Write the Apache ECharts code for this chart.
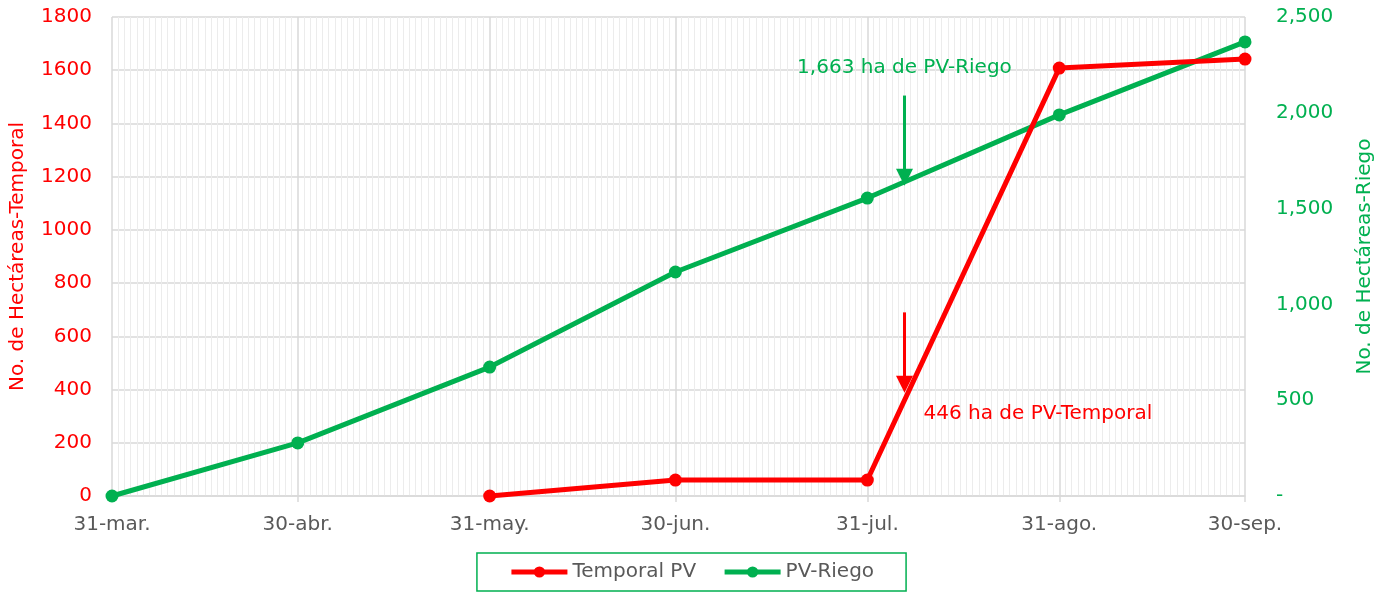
<!DOCTYPE html>
<html>
<head>
<meta charset="utf-8">
<script src="https://cdn.jsdelivr.net/npm/echarts@6/dist/echarts.min.js"></script>
<style>html,body{margin:0;padding:0;background:#fff}#c{width:1383px;height:596px}</style>
</head>
<body>
<div id="c"></div>
<script>
// ---- data ----
const dates = ['31-mar.', '30-abr.', '31-may.', '30-jun.', '31-jul.', '31-ago.', '30-sep.'];
const tickLabels = ['31-mar.', '30-abr.', '31-may.', '30-jun.', '31-jul.', '31-ago.', '30-sep.'];
const temporal = [null, null, 0, 60, 60, 1608, 1642];
const riego = [0, 277, 673, 1169, 1555, 1989, 2370];
const riegoArrow = ['6-ago.', 2090, 1663];
const temporalArrow = ['6-ago.', 690, 420];
const riegoNote = ['6-ago.', 2234, '1,663 ha de PV-Riego'];
const temporalNote = ['9-ago.', 308, '446 ha de PV-Temporal'];

// daily category axis (31-mar .. 30-sep)
const monthsEs = ['ene','feb','mar','abr','may','jun','jul','ago','sep','oct','nov','dic'];
const days = [];
{
  const d0 = new Date(Date.UTC(2021, 2, 31));
  for (let i = 0; i <= 183; i++) {
    const d = new Date(d0.getTime() + i * 86400000);
    days.push(d.getUTCDate() + '-' + monthsEs[d.getUTCMonth()] + '.');
  }
}
const isMajor = (idx, val) => tickLabels.includes(val !== undefined ? val : days[idx]);

const RED = '#ff0000', GREEN = '#00b050', GRAY = '#595959';
const FONT = 'DejaVu Sans';
const FS = 20;

const chart = echarts.init(document.getElementById('c'));
chart.setOption({
  animation: false,
  textStyle: { fontFamily: FONT },
  grid: { left: 112, right: 136, top: 17, bottom: 100, containLabel: false },
  legend: {
    left: 'center', top: 553,
    padding: [9, 32, 9, 32],
    borderColor: GREEN, borderWidth: 1.5,
    itemWidth: 56, itemHeight: 14, itemGap: 26,
    lineStyle: { width: 5 },
    textStyle: { color: GRAY, fontSize: FS, fontFamily: FONT },
    data: ['Temporal PV', 'PV-Riego']
  },
  xAxis: [
    {
      type: 'category', data: days, boundaryGap: false,
      axisLine: { show: true, lineStyle: { color: '#d9d9d9', width: 1.5 } },
      axisTick: { show: true, length: 6, interval: (i, v) => isMajor(i, v), lineStyle: { color: '#d9d9d9', width: 1.5 } },
      axisLabel: { interval: (i, v) => isMajor(i, v), color: GRAY, fontSize: FS, fontFamily: FONT, margin: 19 },
      splitLine: { show: true, interval: (i, v) => isMajor(i, v), lineStyle: { color: '#d9d9d9', width: 1.5 } },
      z: 2
    },
    {
      type: 'category', data: days, boundaryGap: false, position: 'bottom',
      axisLine: { show: false }, axisTick: { show: false }, axisLabel: { show: false },
      splitLine: { show: true, interval: (i, v) => !isMajor(i, v), lineStyle: { color: '#ececec', width: 1 } },
      z: 1
    }
  ],
  yAxis: [
    {
      type: 'value', min: 0, max: 1800, interval: 200, position: 'left',
      name: 'No. de Hectáreas-Temporal', nameLocation: 'middle', nameGap: 84, nameRotate: 90,
      nameTextStyle: { color: RED, fontSize: FS, fontFamily: FONT },
      axisLine: { show: false }, axisTick: { show: false },
      axisLabel: { color: RED, fontSize: FS, fontFamily: FONT, margin: 20, formatter: v => String(v) },
      splitLine: { show: true, lineStyle: { color: '#d9d9d9', width: 1.5 } }
    },
    {
      type: 'value', min: 0, max: 2500, interval: 500, position: 'right',
      name: 'No. de Hectáreas-Riego', nameLocation: 'middle', nameGap: 110, nameRotate: 90,
      nameTextStyle: { color: GREEN, fontSize: FS, fontFamily: FONT },
      axisLine: { show: false }, axisTick: { show: false },
      axisLabel: { color: GREEN, fontSize: FS, fontFamily: FONT, margin: 31, align: 'left',
        formatter: v => v === 0 ? '-' : v.toLocaleString('en-US') },
      splitLine: { show: false }
    }
  ],
  series: [
    {
      name: 'Temporal PV', type: 'line', xAxisIndex: 0, yAxisIndex: 0,
      data: dates.map((d, i) => [d, temporal[i]]).filter(p => p[1] !== null),
      color: RED, lineStyle: { width: 5, color: RED },
      symbol: 'circle', symbolSize: 13, itemStyle: { color: RED },
      z: 4,
      markLine: {
        silent: true, symbol: ['none', 'triangle'], symbolSize: 17,
        lineStyle: { color: RED, width: 3, type: 'solid' }, label: { show: false },
        itemStyle: { color: RED },
        data: [[{ coord: [temporalArrow[0], temporalArrow[1]] }, { coord: [temporalArrow[0], temporalArrow[2]] }]]
      },
      markPoint: {
        silent: true, symbol: 'circle', symbolSize: 1, itemStyle: { color: 'rgba(0,0,0,0)' },
        label: { show: true, position: 'right', distance: 0, color: RED, fontSize: FS, fontFamily: FONT, formatter: temporalNote[2] },
        data: [{ coord: [temporalNote[0], temporalNote[1]] }]
      }
    },
    {
      name: 'PV-Riego', type: 'line', xAxisIndex: 0, yAxisIndex: 1,
      data: dates.map((d, i) => [d, riego[i]]),
      color: GREEN, lineStyle: { width: 5, color: GREEN },
      symbol: 'circle', symbolSize: 13, itemStyle: { color: GREEN },
      z: 3,
      markLine: {
        silent: true, symbol: ['none', 'triangle'], symbolSize: 17,
        lineStyle: { color: GREEN, width: 3, type: 'solid' }, label: { show: false },
        itemStyle: { color: GREEN },
        data: [[{ coord: [riegoArrow[0], riegoArrow[1]] }, { coord: [riegoArrow[0], riegoArrow[2]] }]]
      },
      markPoint: {
        silent: true, symbol: 'circle', symbolSize: 1, itemStyle: { color: 'rgba(0,0,0,0)' },
        label: { show: true, position: 'inside', color: GREEN, fontSize: FS, fontFamily: FONT, formatter: riegoNote[2] },
        data: [{ coord: [riegoNote[0], riegoNote[1]] }]
      }
    }
  ]
});
</script>
</body>
</html>
